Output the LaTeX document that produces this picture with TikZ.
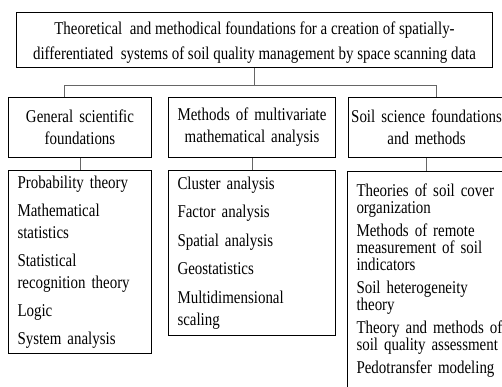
\documentclass[tikz,border=0pt]{standalone}
\usepackage{fontspec}
\setmainfont{Liberation Serif}[FakeStretch=0.83]

\tikzset{
  frame/.style={draw, line width=1pt, inner sep=0pt, anchor=north west},
  head/.style={frame, align=center, minimum height=60, font=\fontsize{18}{22}\selectfont},
  list/.style={frame, inner xsep=9pt, align=left, font=\fontsize{18}{22}\selectfont},
  link/.style={draw=black!60, line width=0.7pt}
}

\begin{document}
\begin{tikzpicture}[x=1pt,y=-1pt]
  \useasboundingbox (0,0) rectangle (502,386);
  % main box
  \node[frame, align=center, minimum width=476, minimum height=55,
        font=\fontsize{18}{25}\selectfont] (top) at (16,12)
    {\rule{0pt}{18.8pt}Theoretical\ \ and methodical foundations for a creation of spatially-\\
     differentiated\ \ systems of soil quality management by space scanning data};
  % headers
  \node[head, text width=143] (gen) at (8,97) {General scientific\\ foundations};
  \node[head, text width=167] (mult) at (168,97) {Methods of multivariate\\ mathematical analysis};
  \node[head, text width=156] (soil) at (348,97) {Soil science foundations\\ and methods};
  % lists
  \node[list, text width=125, minimum height=183] (genlist) at (8,170)
    {Probability theory\\[6pt]
     Mathematical\\ statistics\\[6pt]
     Statistical\\ recognition theory\\[6pt]
     Logic\\[6pt]
     System analysis};
  \node[list, text width=149, minimum height=165] (multlist) at (168,170)
    {Cluster analysis\\[6.5pt]
     Factor analysis\\[6.5pt]
     Spatial analysis\\[6.5pt]
     Geostatistics\\[6.5pt]
     Multidimensional\\ scaling};
  \node[list, text width=158, inner ysep=12pt,
        font=\fontsize{18}{17}\selectfont] (soillist) at (347,171)
    {Theories of soil cover\\ organization\\[6pt]
     Methods of remote\\ measurement of soil\\ indicators\\[6pt]
     Soil heterogeneity\\ theory\\[6pt]
     Theory and methods of\\ soil quality assessment\\[6pt]
     Pedotransfer modeling\rule[-30pt]{0pt}{0pt}};
  % connectors
  \coordinate (busL) at (64,85);
  \coordinate (busR) at (436,85);
  \draw[link] (top.south) -- (top.south |- busL);
  \draw[link] (gen.north -| busL) -- (busL) -- (busR) -- (soil.north -| busR);
  \draw[link] (gen.south) -- (genlist.north);
  \draw[link] (mult.south) -- (multlist.north);
  \draw[link] (soil.south) -- (soillist.north -| soil.south);
\end{tikzpicture}
\end{document}
